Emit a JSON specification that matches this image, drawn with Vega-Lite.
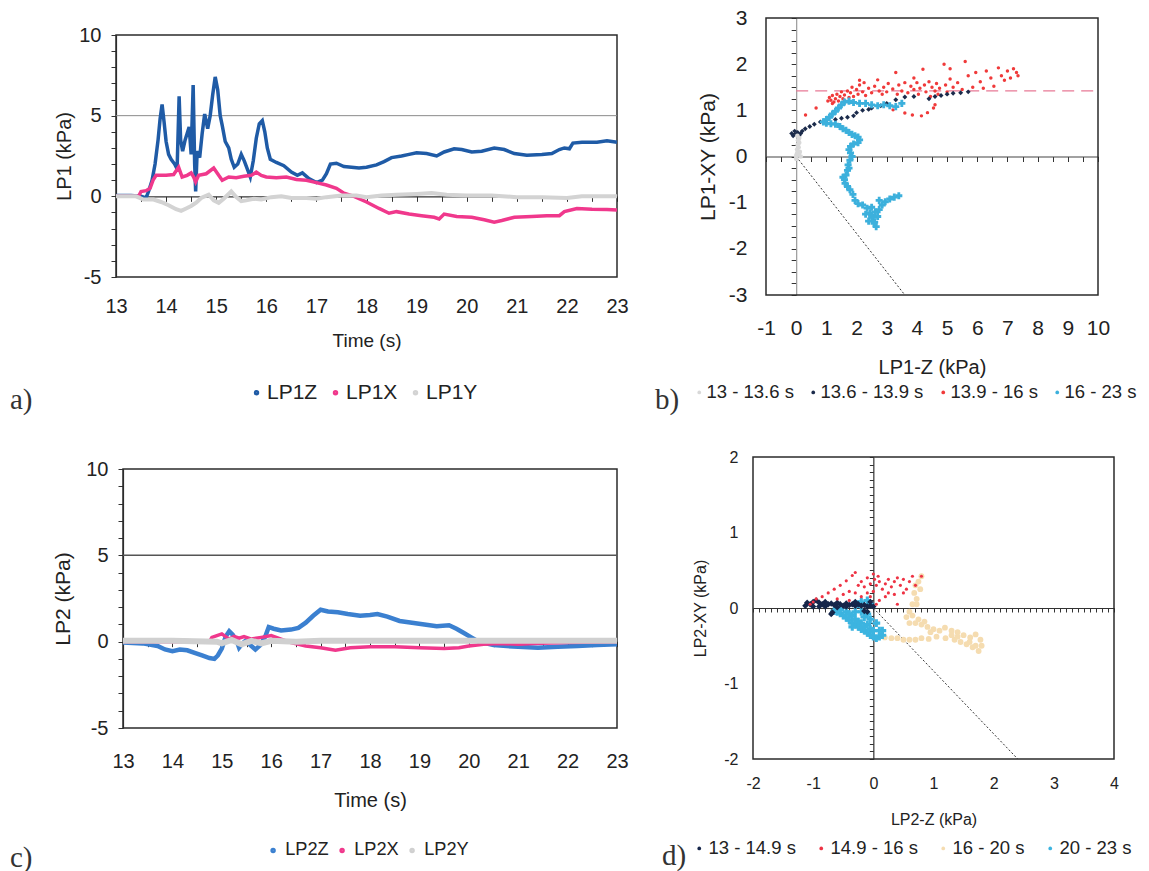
{
"$schema": "https://vega.github.io/schema/vega-lite/v6.json",
"background": "white",
"padding": 0,
"config": {
 "view": {"stroke": null},
 "font": "Liberation Sans",
 "axis": {"labelColor": "#222", "titleColor": "#222", "titleFontWeight": "normal", "domainColor": "#333", "tickColor": "#333", "labelFlush": false, "labelOverlap": false, "labelBound": false, "grid": false, "domainWidth": 1.2, "tickWidth": 1, "tickSize": 5, "labelFont": "Liberation Sans", "titleFont": "Liberation Sans"},
 "legend": {"labelColor": "#222", "titleColor": "#333", "titleFontWeight": "normal", "titleFont": "Liberation Serif", "labelFont": "Liberation Sans", "orient": "none", "direction": "horizontal", "titleOrient": "left", "symbolType": "circle", "titleBaseline": "line-top", "titleLineHeight": 17}
},
"datasets": {
 "frT": [
  {"t":13,"t2":23,"v":-5,"v2":10,"k":"frame"},
  {"t":13,"t2":23,"v":5,"v2":5,"k":"grid"}
 ],
 "tsA": [
  {"t":13.0,"v":0.05,"s":"LP1Z"},{"t":13.3,"v":0.05,"s":"LP1Z"},{"t":13.5,"v":0.0,"s":"LP1Z"},{"t":13.6,"v":-0.1,"s":"LP1Z"},{"t":13.65,"v":0.3,"s":"LP1Z"},{"t":13.72,"v":1.0,"s":"LP1Z"},{"t":13.78,"v":2.0,"s":"LP1Z"},{"t":13.84,"v":3.5,"s":"LP1Z"},{"t":13.88,"v":4.8,"s":"LP1Z"},{"t":13.92,"v":5.7,"s":"LP1Z"},{"t":13.96,"v":4.6,"s":"LP1Z"},{"t":14.0,"v":3.4,"s":"LP1Z"},{"t":14.05,"v":2.6,"s":"LP1Z"},{"t":14.1,"v":2.3,"s":"LP1Z"},{"t":14.17,"v":2.0,"s":"LP1Z"},{"t":14.22,"v":1.7,"s":"LP1Z"},{"t":14.26,"v":6.2,"s":"LP1Z"},{"t":14.29,"v":3.5,"s":"LP1Z"},{"t":14.33,"v":2.8,"s":"LP1Z"},{"t":14.38,"v":3.5,"s":"LP1Z"},{"t":14.42,"v":3.9,"s":"LP1Z"},{"t":14.46,"v":4.3,"s":"LP1Z"},{"t":14.5,"v":2.6,"s":"LP1Z"},{"t":14.54,"v":6.9,"s":"LP1Z"},{"t":14.57,"v":2.0,"s":"LP1Z"},{"t":14.59,"v":0.3,"s":"LP1Z"},{"t":14.62,"v":2.8,"s":"LP1Z"},{"t":14.67,"v":2.4,"s":"LP1Z"},{"t":14.72,"v":3.9,"s":"LP1Z"},{"t":14.77,"v":5.1,"s":"LP1Z"},{"t":14.83,"v":4.2,"s":"LP1Z"},{"t":14.88,"v":5.0,"s":"LP1Z"},{"t":14.93,"v":6.3,"s":"LP1Z"},{"t":14.98,"v":7.4,"s":"LP1Z"},{"t":15.03,"v":6.6,"s":"LP1Z"},{"t":15.08,"v":5.0,"s":"LP1Z"},{"t":15.12,"v":4.4,"s":"LP1Z"},{"t":15.18,"v":3.4,"s":"LP1Z"},{"t":15.25,"v":3.0,"s":"LP1Z"},{"t":15.3,"v":2.3,"s":"LP1Z"},{"t":15.36,"v":1.8,"s":"LP1Z"},{"t":15.43,"v":2.0,"s":"LP1Z"},{"t":15.5,"v":2.6,"s":"LP1Z"},{"t":15.56,"v":2.2,"s":"LP1Z"},{"t":15.62,"v":1.7,"s":"LP1Z"},{"t":15.68,"v":1.2,"s":"LP1Z"},{"t":15.74,"v":2.2,"s":"LP1Z"},{"t":15.8,"v":3.6,"s":"LP1Z"},{"t":15.86,"v":4.5,"s":"LP1Z"},{"t":15.92,"v":4.7,"s":"LP1Z"},{"t":15.97,"v":4.0,"s":"LP1Z"},{"t":16.02,"v":3.0,"s":"LP1Z"},{"t":16.08,"v":2.3,"s":"LP1Z"},{"t":16.2,"v":2.1,"s":"LP1Z"},{"t":16.35,"v":1.9,"s":"LP1Z"},{"t":16.5,"v":1.5,"s":"LP1Z"},{"t":16.62,"v":1.3,"s":"LP1Z"},{"t":16.72,"v":1.45,"s":"LP1Z"},{"t":16.85,"v":1.1,"s":"LP1Z"},{"t":17.0,"v":0.85,"s":"LP1Z"},{"t":17.12,"v":1.0,"s":"LP1Z"},{"t":17.2,"v":1.4,"s":"LP1Z"},{"t":17.28,"v":2.0,"s":"LP1Z"},{"t":17.4,"v":2.05,"s":"LP1Z"},{"t":17.55,"v":1.85,"s":"LP1Z"},{"t":17.7,"v":1.8,"s":"LP1Z"},{"t":17.85,"v":1.75,"s":"LP1Z"},{"t":18.0,"v":1.8,"s":"LP1Z"},{"t":18.2,"v":1.95,"s":"LP1Z"},{"t":18.35,"v":2.15,"s":"LP1Z"},{"t":18.5,"v":2.4,"s":"LP1Z"},{"t":18.7,"v":2.5,"s":"LP1Z"},{"t":18.85,"v":2.6,"s":"LP1Z"},{"t":19.0,"v":2.7,"s":"LP1Z"},{"t":19.2,"v":2.65,"s":"LP1Z"},{"t":19.4,"v":2.5,"s":"LP1Z"},{"t":19.55,"v":2.75,"s":"LP1Z"},{"t":19.75,"v":2.95,"s":"LP1Z"},{"t":19.9,"v":2.9,"s":"LP1Z"},{"t":20.1,"v":2.75,"s":"LP1Z"},{"t":20.3,"v":2.8,"s":"LP1Z"},{"t":20.55,"v":3.0,"s":"LP1Z"},{"t":20.75,"v":2.9,"s":"LP1Z"},{"t":20.95,"v":2.65,"s":"LP1Z"},{"t":21.2,"v":2.55,"s":"LP1Z"},{"t":21.5,"v":2.6,"s":"LP1Z"},{"t":21.7,"v":2.65,"s":"LP1Z"},{"t":21.85,"v":2.9,"s":"LP1Z"},{"t":21.95,"v":3.0,"s":"LP1Z"},{"t":22.05,"v":2.95,"s":"LP1Z"},{"t":22.12,"v":3.3,"s":"LP1Z"},{"t":22.3,"v":3.35,"s":"LP1Z"},{"t":22.6,"v":3.35,"s":"LP1Z"},{"t":22.8,"v":3.45,"s":"LP1Z"},{"t":23.0,"v":3.35,"s":"LP1Z"},
  {"t":13.0,"v":0.0,"s":"LP1X"},{"t":13.45,"v":0.0,"s":"LP1X"},{"t":13.5,"v":0.3,"s":"LP1X"},{"t":13.6,"v":0.35,"s":"LP1X"},{"t":13.68,"v":0.5,"s":"LP1X"},{"t":13.74,"v":1.0,"s":"LP1X"},{"t":13.8,"v":1.3,"s":"LP1X"},{"t":14.0,"v":1.3,"s":"LP1X"},{"t":14.15,"v":1.35,"s":"LP1X"},{"t":14.25,"v":1.8,"s":"LP1X"},{"t":14.32,"v":1.2,"s":"LP1X"},{"t":14.42,"v":1.3,"s":"LP1X"},{"t":14.5,"v":1.45,"s":"LP1X"},{"t":14.55,"v":1.2,"s":"LP1X"},{"t":14.59,"v":0.9,"s":"LP1X"},{"t":14.65,"v":1.3,"s":"LP1X"},{"t":14.8,"v":1.4,"s":"LP1X"},{"t":14.95,"v":1.75,"s":"LP1X"},{"t":15.05,"v":1.3,"s":"LP1X"},{"t":15.12,"v":1.0,"s":"LP1X"},{"t":15.25,"v":1.2,"s":"LP1X"},{"t":15.4,"v":1.15,"s":"LP1X"},{"t":15.55,"v":1.25,"s":"LP1X"},{"t":15.7,"v":1.3,"s":"LP1X"},{"t":15.8,"v":1.5,"s":"LP1X"},{"t":15.9,"v":1.3,"s":"LP1X"},{"t":16.0,"v":1.2,"s":"LP1X"},{"t":16.2,"v":1.15,"s":"LP1X"},{"t":16.4,"v":1.2,"s":"LP1X"},{"t":16.6,"v":1.05,"s":"LP1X"},{"t":16.8,"v":1.0,"s":"LP1X"},{"t":17.0,"v":0.85,"s":"LP1X"},{"t":17.2,"v":0.7,"s":"LP1X"},{"t":17.4,"v":0.5,"s":"LP1X"},{"t":17.55,"v":0.2,"s":"LP1X"},{"t":17.75,"v":0.0,"s":"LP1X"},{"t":18.0,"v":-0.35,"s":"LP1X"},{"t":18.25,"v":-0.75,"s":"LP1X"},{"t":18.45,"v":-1.05,"s":"LP1X"},{"t":18.6,"v":-0.95,"s":"LP1X"},{"t":18.85,"v":-1.1,"s":"LP1X"},{"t":19.1,"v":-1.2,"s":"LP1X"},{"t":19.35,"v":-1.3,"s":"LP1X"},{"t":19.45,"v":-1.4,"s":"LP1X"},{"t":19.55,"v":-1.1,"s":"LP1X"},{"t":19.8,"v":-1.25,"s":"LP1X"},{"t":20.1,"v":-1.3,"s":"LP1X"},{"t":20.35,"v":-1.45,"s":"LP1X"},{"t":20.55,"v":-1.6,"s":"LP1X"},{"t":20.7,"v":-1.5,"s":"LP1X"},{"t":20.95,"v":-1.3,"s":"LP1X"},{"t":21.3,"v":-1.25,"s":"LP1X"},{"t":21.6,"v":-1.2,"s":"LP1X"},{"t":21.85,"v":-1.2,"s":"LP1X"},{"t":21.95,"v":-0.95,"s":"LP1X"},{"t":22.2,"v":-0.75,"s":"LP1X"},{"t":22.5,"v":-0.8,"s":"LP1X"},{"t":22.8,"v":-0.82,"s":"LP1X"},{"t":23.0,"v":-0.85,"s":"LP1X"},
  {"t":13.0,"v":0.0,"s":"LP1Y"},{"t":13.4,"v":0.0,"s":"LP1Y"},{"t":13.55,"v":-0.2,"s":"LP1Y"},{"t":13.75,"v":-0.2,"s":"LP1Y"},{"t":13.9,"v":-0.35,"s":"LP1Y"},{"t":14.05,"v":-0.55,"s":"LP1Y"},{"t":14.2,"v":-0.8,"s":"LP1Y"},{"t":14.3,"v":-0.9,"s":"LP1Y"},{"t":14.4,"v":-0.75,"s":"LP1Y"},{"t":14.5,"v":-0.6,"s":"LP1Y"},{"t":14.6,"v":-0.4,"s":"LP1Y"},{"t":14.7,"v":-0.1,"s":"LP1Y"},{"t":14.85,"v":0.1,"s":"LP1Y"},{"t":14.95,"v":-0.25,"s":"LP1Y"},{"t":15.05,"v":-0.4,"s":"LP1Y"},{"t":15.15,"v":-0.15,"s":"LP1Y"},{"t":15.3,"v":0.3,"s":"LP1Y"},{"t":15.4,"v":-0.05,"s":"LP1Y"},{"t":15.5,"v":-0.3,"s":"LP1Y"},{"t":15.6,"v":-0.25,"s":"LP1Y"},{"t":15.75,"v":-0.15,"s":"LP1Y"},{"t":15.9,"v":-0.2,"s":"LP1Y"},{"t":16.1,"v":-0.05,"s":"LP1Y"},{"t":16.3,"v":0.0,"s":"LP1Y"},{"t":16.5,"v":-0.1,"s":"LP1Y"},{"t":16.8,"v":-0.1,"s":"LP1Y"},{"t":17.0,"v":-0.15,"s":"LP1Y"},{"t":17.2,"v":-0.05,"s":"LP1Y"},{"t":17.5,"v":0.05,"s":"LP1Y"},{"t":17.8,"v":0.05,"s":"LP1Y"},{"t":18.0,"v":-0.05,"s":"LP1Y"},{"t":18.3,"v":0.05,"s":"LP1Y"},{"t":18.6,"v":0.1,"s":"LP1Y"},{"t":19.0,"v":0.15,"s":"LP1Y"},{"t":19.3,"v":0.2,"s":"LP1Y"},{"t":19.6,"v":0.1,"s":"LP1Y"},{"t":20.0,"v":0.05,"s":"LP1Y"},{"t":20.5,"v":0.05,"s":"LP1Y"},{"t":21.0,"v":-0.05,"s":"LP1Y"},{"t":21.5,"v":-0.05,"s":"LP1Y"},{"t":22.0,"v":-0.1,"s":"LP1Y"},{"t":22.3,"v":0.0,"s":"LP1Y"},{"t":22.7,"v":0.0,"s":"LP1Y"},{"t":23.0,"v":0.0,"s":"LP1Y"}
 ],
 "tsC": [
  {"t":13.0,"v":-0.05,"s":"LP2Z"},{"t":13.4,"v":-0.1,"s":"LP2Z"},{"t":13.7,"v":-0.25,"s":"LP2Z"},{"t":13.85,"v":-0.45,"s":"LP2Z"},{"t":14.0,"v":-0.55,"s":"LP2Z"},{"t":14.15,"v":-0.45,"s":"LP2Z"},{"t":14.3,"v":-0.5,"s":"LP2Z"},{"t":14.45,"v":-0.65,"s":"LP2Z"},{"t":14.6,"v":-0.8,"s":"LP2Z"},{"t":14.75,"v":-0.95,"s":"LP2Z"},{"t":14.85,"v":-1.0,"s":"LP2Z"},{"t":14.92,"v":-0.8,"s":"LP2Z"},{"t":15.0,"v":-0.4,"s":"LP2Z"},{"t":15.08,"v":0.3,"s":"LP2Z"},{"t":15.15,"v":0.6,"s":"LP2Z"},{"t":15.22,"v":0.4,"s":"LP2Z"},{"t":15.3,"v":0.05,"s":"LP2Z"},{"t":15.35,"v":-0.35,"s":"LP2Z"},{"t":15.42,"v":-0.1,"s":"LP2Z"},{"t":15.5,"v":0.1,"s":"LP2Z"},{"t":15.58,"v":-0.2,"s":"LP2Z"},{"t":15.68,"v":-0.45,"s":"LP2Z"},{"t":15.78,"v":-0.2,"s":"LP2Z"},{"t":15.88,"v":0.3,"s":"LP2Z"},{"t":15.95,"v":0.85,"s":"LP2Z"},{"t":16.05,"v":0.75,"s":"LP2Z"},{"t":16.2,"v":0.65,"s":"LP2Z"},{"t":16.4,"v":0.7,"s":"LP2Z"},{"t":16.55,"v":0.8,"s":"LP2Z"},{"t":16.7,"v":1.1,"s":"LP2Z"},{"t":16.85,"v":1.5,"s":"LP2Z"},{"t":17.0,"v":1.85,"s":"LP2Z"},{"t":17.15,"v":1.75,"s":"LP2Z"},{"t":17.35,"v":1.7,"s":"LP2Z"},{"t":17.55,"v":1.6,"s":"LP2Z"},{"t":17.8,"v":1.5,"s":"LP2Z"},{"t":18.0,"v":1.55,"s":"LP2Z"},{"t":18.15,"v":1.6,"s":"LP2Z"},{"t":18.35,"v":1.45,"s":"LP2Z"},{"t":18.6,"v":1.2,"s":"LP2Z"},{"t":18.85,"v":1.1,"s":"LP2Z"},{"t":19.1,"v":1.0,"s":"LP2Z"},{"t":19.35,"v":0.9,"s":"LP2Z"},{"t":19.6,"v":0.95,"s":"LP2Z"},{"t":19.75,"v":0.75,"s":"LP2Z"},{"t":19.9,"v":0.5,"s":"LP2Z"},{"t":20.05,"v":0.25,"s":"LP2Z"},{"t":20.2,"v":0.0,"s":"LP2Z"},{"t":20.5,"v":-0.2,"s":"LP2Z"},{"t":21.0,"v":-0.3,"s":"LP2Z"},{"t":21.4,"v":-0.35,"s":"LP2Z"},{"t":21.8,"v":-0.3,"s":"LP2Z"},{"t":22.2,"v":-0.25,"s":"LP2Z"},{"t":22.6,"v":-0.2,"s":"LP2Z"},{"t":23.0,"v":-0.15,"s":"LP2Z"},
  {"t":13.0,"v":0.0,"s":"LP2X"},{"t":14.75,"v":0.0,"s":"LP2X"},{"t":14.8,"v":0.25,"s":"LP2X"},{"t":15.0,"v":0.45,"s":"LP2X"},{"t":15.15,"v":0.15,"s":"LP2X"},{"t":15.25,"v":0.3,"s":"LP2X"},{"t":15.35,"v":0.2,"s":"LP2X"},{"t":15.45,"v":0.3,"s":"LP2X"},{"t":15.6,"v":0.15,"s":"LP2X"},{"t":15.8,"v":0.25,"s":"LP2X"},{"t":16.0,"v":0.35,"s":"LP2X"},{"t":16.2,"v":0.15,"s":"LP2X"},{"t":16.4,"v":-0.05,"s":"LP2X"},{"t":16.7,"v":-0.25,"s":"LP2X"},{"t":17.0,"v":-0.35,"s":"LP2X"},{"t":17.3,"v":-0.5,"s":"LP2X"},{"t":17.6,"v":-0.35,"s":"LP2X"},{"t":18.0,"v":-0.3,"s":"LP2X"},{"t":18.5,"v":-0.3,"s":"LP2X"},{"t":19.0,"v":-0.35,"s":"LP2X"},{"t":19.5,"v":-0.4,"s":"LP2X"},{"t":19.8,"v":-0.35,"s":"LP2X"},{"t":20.0,"v":-0.25,"s":"LP2X"},{"t":20.3,"v":-0.15,"s":"LP2X"},{"t":20.6,"v":-0.1,"s":"LP2X"},{"t":21.0,"v":-0.15,"s":"LP2X"},{"t":21.3,"v":-0.1,"s":"LP2X"},{"t":22.0,"v":-0.05,"s":"LP2X"},{"t":23.0,"v":0.0,"s":"LP2X"},
  {"t":13.0,"v":0.05,"s":"LP2Y"},{"t":14.0,"v":0.05,"s":"LP2Y"},{"t":14.9,"v":0.0,"s":"LP2Y"},{"t":15.0,"v":-0.1,"s":"LP2Y"},{"t":15.2,"v":0.1,"s":"LP2Y"},{"t":15.4,"v":-0.15,"s":"LP2Y"},{"t":15.6,"v":0.05,"s":"LP2Y"},{"t":15.8,"v":-0.1,"s":"LP2Y"},{"t":16.0,"v":0.05,"s":"LP2Y"},{"t":16.5,"v":0.0,"s":"LP2Y"},{"t":17.0,"v":0.05,"s":"LP2Y"},{"t":18.0,"v":0.05,"s":"LP2Y"},{"t":19.0,"v":0.05,"s":"LP2Y"},{"t":20.0,"v":0.05,"s":"LP2Y"},{"t":21.0,"v":0.05,"s":"LP2Y"},{"t":22.0,"v":0.05,"s":"LP2Y"},{"t":23.0,"v":0.05,"s":"LP2Y"}
 ],
 "refB": [
  {"z":-1,"xy":-3,"z2":10,"xy2":3,"k":"frame"},
  {"z":0,"xy":1.42,"z2":10,"xy2":1.42,"k":"dash"},
  {"z":0,"xy":0,"z2":3.6,"xy2":-3,"k":"dot"}
 ],
 "refD": [
  {"z":-2,"xy":-2,"z2":4,"xy2":2,"k":"frame"},
  {"z":0,"xy":0,"z2":2.4,"xy2":-2,"k":"dot"}
 ],
 "scB": [
  {"z":0.31,"xy":0.9,"g":"13.9 - 16 s"},{"z":0.66,"xy":1.05,"g":"13.9 - 16 s"},{"z":1.05,"xy":1.2,"g":"13.9 - 16 s"},{"z":1.1,"xy":1.28,"g":"13.9 - 16 s"},{"z":1.15,"xy":1.22,"g":"13.9 - 16 s"},{"z":1.2,"xy":1.32,"g":"13.9 - 16 s"},{"z":1.25,"xy":1.18,"g":"13.9 - 16 s"},{"z":1.3,"xy":1.25,"g":"13.9 - 16 s"},{"z":1.35,"xy":1.35,"g":"13.9 - 16 s"},{"z":1.4,"xy":1.2,"g":"13.9 - 16 s"},{"z":1.45,"xy":1.3,"g":"13.9 - 16 s"},{"z":1.5,"xy":1.4,"g":"13.9 - 16 s"},{"z":1.55,"xy":1.25,"g":"13.9 - 16 s"},{"z":1.6,"xy":1.33,"g":"13.9 - 16 s"},{"z":1.7,"xy":1.42,"g":"13.9 - 16 s"},{"z":1.75,"xy":1.28,"g":"13.9 - 16 s"},{"z":1.8,"xy":1.38,"g":"13.9 - 16 s"},{"z":1.85,"xy":1.5,"g":"13.9 - 16 s"},{"z":1.9,"xy":1.3,"g":"13.9 - 16 s"},{"z":2.0,"xy":1.45,"g":"13.9 - 16 s"},{"z":2.05,"xy":1.35,"g":"13.9 - 16 s"},{"z":2.1,"xy":1.55,"g":"13.9 - 16 s"},{"z":2.2,"xy":1.4,"g":"13.9 - 16 s"},{"z":2.25,"xy":1.6,"g":"13.9 - 16 s"},{"z":2.3,"xy":1.32,"g":"13.9 - 16 s"},{"z":2.4,"xy":1.48,"g":"13.9 - 16 s"},{"z":2.5,"xy":1.38,"g":"13.9 - 16 s"},{"z":2.6,"xy":1.52,"g":"13.9 - 16 s"},{"z":2.7,"xy":1.66,"g":"13.9 - 16 s"},{"z":2.75,"xy":1.42,"g":"13.9 - 16 s"},{"z":2.85,"xy":1.35,"g":"13.9 - 16 s"},{"z":2.9,"xy":1.5,"g":"13.9 - 16 s"},{"z":3.0,"xy":1.4,"g":"13.9 - 16 s"},{"z":3.05,"xy":1.58,"g":"13.9 - 16 s"},{"z":3.1,"xy":1.1,"g":"13.9 - 16 s"},{"z":3.2,"xy":1.46,"g":"13.9 - 16 s"},{"z":3.21,"xy":1.01,"g":"13.9 - 16 s"},{"z":3.3,"xy":1.82,"g":"13.9 - 16 s"},{"z":3.35,"xy":1.35,"g":"13.9 - 16 s"},{"z":3.4,"xy":1.55,"g":"13.9 - 16 s"},{"z":3.5,"xy":1.42,"g":"13.9 - 16 s"},{"z":3.6,"xy":0.94,"g":"13.9 - 16 s"},{"z":3.6,"xy":1.6,"g":"13.9 - 16 s"},{"z":3.7,"xy":1.38,"g":"13.9 - 16 s"},{"z":3.8,"xy":1.52,"g":"13.9 - 16 s"},{"z":3.85,"xy":0.9,"g":"13.9 - 16 s"},{"z":3.9,"xy":1.45,"g":"13.9 - 16 s"},{"z":4.0,"xy":1.6,"g":"13.9 - 16 s"},{"z":4.05,"xy":1.35,"g":"13.9 - 16 s"},{"z":4.1,"xy":1.48,"g":"13.9 - 16 s"},{"z":4.15,"xy":0.88,"g":"13.9 - 16 s"},{"z":4.2,"xy":1.89,"g":"13.9 - 16 s"},{"z":4.25,"xy":1.55,"g":"13.9 - 16 s"},{"z":4.3,"xy":1.4,"g":"13.9 - 16 s"},{"z":4.35,"xy":0.95,"g":"13.9 - 16 s"},{"z":4.4,"xy":1.62,"g":"13.9 - 16 s"},{"z":4.45,"xy":1.3,"g":"13.9 - 16 s"},{"z":4.5,"xy":1.5,"g":"13.9 - 16 s"},{"z":4.55,"xy":1.05,"g":"13.9 - 16 s"},{"z":4.6,"xy":1.42,"g":"13.9 - 16 s"},{"z":4.6,"xy":1.12,"g":"13.9 - 16 s"},{"z":4.65,"xy":1.58,"g":"13.9 - 16 s"},{"z":4.7,"xy":1.35,"g":"13.9 - 16 s"},{"z":4.75,"xy":1.48,"g":"13.9 - 16 s"},{"z":4.9,"xy":2.0,"g":"13.9 - 16 s"},{"z":4.95,"xy":1.55,"g":"13.9 - 16 s"},{"z":5.0,"xy":1.4,"g":"13.9 - 16 s"},{"z":5.1,"xy":1.68,"g":"13.9 - 16 s"},{"z":5.2,"xy":1.5,"g":"13.9 - 16 s"},{"z":5.35,"xy":1.6,"g":"13.9 - 16 s"},{"z":5.5,"xy":1.45,"g":"13.9 - 16 s"},{"z":5.6,"xy":2.06,"g":"13.9 - 16 s"},{"z":5.7,"xy":1.75,"g":"13.9 - 16 s"},{"z":5.85,"xy":1.5,"g":"13.9 - 16 s"},{"z":5.95,"xy":1.82,"g":"13.9 - 16 s"},{"z":6.1,"xy":1.62,"g":"13.9 - 16 s"},{"z":6.2,"xy":1.48,"g":"13.9 - 16 s"},{"z":6.3,"xy":1.85,"g":"13.9 - 16 s"},{"z":6.45,"xy":1.7,"g":"13.9 - 16 s"},{"z":6.55,"xy":1.52,"g":"13.9 - 16 s"},{"z":6.7,"xy":1.92,"g":"13.9 - 16 s"},{"z":6.8,"xy":1.75,"g":"13.9 - 16 s"},{"z":6.9,"xy":1.65,"g":"13.9 - 16 s"},{"z":7.0,"xy":1.85,"g":"13.9 - 16 s"},{"z":7.1,"xy":1.7,"g":"13.9 - 16 s"},{"z":7.2,"xy":1.9,"g":"13.9 - 16 s"},{"z":7.3,"xy":1.82,"g":"13.9 - 16 s"},{"z":7.35,"xy":1.75,"g":"13.9 - 16 s"},{"z":5.1,"xy":1.9,"g":"13.9 - 16 s"},{"z":3.9,"xy":1.7,"g":"13.9 - 16 s"},{"z":2.1,"xy":1.65,"g":"13.9 - 16 s"},{"z":1.2,"xy":1.15,"g":"13.9 - 16 s"},{"z":1.6,"xy":1.2,"g":"13.9 - 16 s"},
  {"z":-0.15,"xy":0.5,"g":"13.6 - 13.9 s"},{"z":-0.1,"xy":0.45,"g":"13.6 - 13.9 s"},{"z":-0.05,"xy":0.55,"g":"13.6 - 13.9 s"},{"z":0.0,"xy":0.48,"g":"13.6 - 13.9 s"},{"z":0.05,"xy":0.52,"g":"13.6 - 13.9 s"},{"z":0.1,"xy":0.45,"g":"13.6 - 13.9 s"},{"z":0.15,"xy":0.5,"g":"13.6 - 13.9 s"},{"z":0.2,"xy":0.55,"g":"13.6 - 13.9 s"},{"z":0.3,"xy":0.6,"g":"13.6 - 13.9 s"},{"z":0.45,"xy":0.65,"g":"13.6 - 13.9 s"},{"z":0.6,"xy":0.7,"g":"13.6 - 13.9 s"},{"z":0.8,"xy":0.75,"g":"13.6 - 13.9 s"},{"z":1.0,"xy":0.78,"g":"13.6 - 13.9 s"},{"z":1.3,"xy":0.8,"g":"13.6 - 13.9 s"},{"z":1.5,"xy":0.83,"g":"13.6 - 13.9 s"},{"z":1.7,"xy":0.85,"g":"13.6 - 13.9 s"},{"z":1.9,"xy":0.88,"g":"13.6 - 13.9 s"},{"z":2.0,"xy":0.95,"g":"13.6 - 13.9 s"},{"z":2.2,"xy":1.0,"g":"13.6 - 13.9 s"},{"z":2.4,"xy":1.02,"g":"13.6 - 13.9 s"},{"z":2.5,"xy":1.05,"g":"13.6 - 13.9 s"},{"z":2.8,"xy":1.1,"g":"13.6 - 13.9 s"},{"z":3.0,"xy":1.15,"g":"13.6 - 13.9 s"},{"z":3.3,"xy":1.23,"g":"13.6 - 13.9 s"},{"z":3.6,"xy":1.29,"g":"13.6 - 13.9 s"},{"z":3.9,"xy":1.3,"g":"13.6 - 13.9 s"},{"z":4.4,"xy":1.25,"g":"13.6 - 13.9 s"},{"z":4.6,"xy":1.3,"g":"13.6 - 13.9 s"},{"z":4.8,"xy":1.32,"g":"13.6 - 13.9 s"},{"z":5.0,"xy":1.35,"g":"13.6 - 13.9 s"},{"z":5.2,"xy":1.37,"g":"13.6 - 13.9 s"},{"z":5.45,"xy":1.38,"g":"13.6 - 13.9 s"},{"z":5.7,"xy":1.4,"g":"13.6 - 13.9 s"},
  {"z":3.5,"xy":1.15,"g":"16 - 23 s"},{"z":3.3,"xy":1.08,"g":"16 - 23 s"},{"z":3.1,"xy":1.1,"g":"16 - 23 s"},{"z":2.9,"xy":1.12,"g":"16 - 23 s"},{"z":2.7,"xy":1.1,"g":"16 - 23 s"},{"z":2.5,"xy":1.12,"g":"16 - 23 s"},{"z":2.3,"xy":1.15,"g":"16 - 23 s"},{"z":2.1,"xy":1.15,"g":"16 - 23 s"},{"z":1.9,"xy":1.17,"g":"16 - 23 s"},{"z":1.75,"xy":1.2,"g":"16 - 23 s"},{"z":1.6,"xy":1.18,"g":"16 - 23 s"},{"z":1.5,"xy":1.12,"g":"16 - 23 s"},{"z":1.4,"xy":1.05,"g":"16 - 23 s"},{"z":1.3,"xy":0.98,"g":"16 - 23 s"},{"z":1.2,"xy":0.92,"g":"16 - 23 s"},{"z":1.1,"xy":0.85,"g":"16 - 23 s"},{"z":1.0,"xy":0.8,"g":"16 - 23 s"},{"z":0.9,"xy":0.75,"g":"16 - 23 s"},{"z":1.0,"xy":0.72,"g":"16 - 23 s"},{"z":1.15,"xy":0.71,"g":"16 - 23 s"},{"z":1.3,"xy":0.7,"g":"16 - 23 s"},{"z":1.45,"xy":0.65,"g":"16 - 23 s"},{"z":1.55,"xy":0.6,"g":"16 - 23 s"},{"z":1.65,"xy":0.57,"g":"16 - 23 s"},{"z":1.75,"xy":0.52,"g":"16 - 23 s"},{"z":1.85,"xy":0.48,"g":"16 - 23 s"},{"z":1.95,"xy":0.45,"g":"16 - 23 s"},{"z":2.05,"xy":0.42,"g":"16 - 23 s"},{"z":2.1,"xy":0.36,"g":"16 - 23 s"},{"z":2.05,"xy":0.3,"g":"16 - 23 s"},{"z":1.9,"xy":0.27,"g":"16 - 23 s"},{"z":1.8,"xy":0.22,"g":"16 - 23 s"},{"z":1.75,"xy":0.15,"g":"16 - 23 s"},{"z":1.8,"xy":0.08,"g":"16 - 23 s"},{"z":1.85,"xy":0.0,"g":"16 - 23 s"},{"z":1.78,"xy":-0.08,"g":"16 - 23 s"},{"z":1.72,"xy":-0.18,"g":"16 - 23 s"},{"z":1.75,"xy":-0.25,"g":"16 - 23 s"},{"z":1.7,"xy":-0.3,"g":"16 - 23 s"},{"z":1.65,"xy":-0.4,"g":"16 - 23 s"},{"z":1.55,"xy":-0.45,"g":"16 - 23 s"},{"z":1.6,"xy":-0.5,"g":"16 - 23 s"},{"z":1.62,"xy":-0.58,"g":"16 - 23 s"},{"z":1.7,"xy":-0.65,"g":"16 - 23 s"},{"z":1.78,"xy":-0.72,"g":"16 - 23 s"},{"z":1.88,"xy":-0.82,"g":"16 - 23 s"},{"z":1.95,"xy":-0.95,"g":"16 - 23 s"},{"z":2.05,"xy":-1.02,"g":"16 - 23 s"},{"z":2.2,"xy":-1.05,"g":"16 - 23 s"},{"z":2.35,"xy":-1.12,"g":"16 - 23 s"},{"z":2.3,"xy":-1.25,"g":"16 - 23 s"},{"z":2.45,"xy":-1.22,"g":"16 - 23 s"},{"z":2.4,"xy":-1.4,"g":"16 - 23 s"},{"z":2.55,"xy":-1.32,"g":"16 - 23 s"},{"z":2.6,"xy":-1.42,"g":"16 - 23 s"},{"z":2.65,"xy":-1.52,"g":"16 - 23 s"},{"z":2.58,"xy":-1.45,"g":"16 - 23 s"},{"z":2.5,"xy":-1.3,"g":"16 - 23 s"},{"z":2.5,"xy":-1.1,"g":"16 - 23 s"},{"z":2.62,"xy":-1.2,"g":"16 - 23 s"},{"z":2.7,"xy":-1.3,"g":"16 - 23 s"},{"z":2.75,"xy":-1.15,"g":"16 - 23 s"},{"z":2.75,"xy":-0.95,"g":"16 - 23 s"},{"z":2.85,"xy":-1.05,"g":"16 - 23 s"},{"z":2.95,"xy":-0.98,"g":"16 - 23 s"},{"z":3.1,"xy":-0.92,"g":"16 - 23 s"},{"z":3.25,"xy":-0.88,"g":"16 - 23 s"},{"z":3.4,"xy":-0.85,"g":"16 - 23 s"},
  {"z":0.0,"xy":0.0,"g":"13 - 13.6 s"},{"z":0.02,"xy":0.05,"g":"13 - 13.6 s"},{"z":0.05,"xy":0.1,"g":"13 - 13.6 s"},{"z":0.03,"xy":0.15,"g":"13 - 13.6 s"},{"z":0.08,"xy":0.2,"g":"13 - 13.6 s"},{"z":0.05,"xy":0.25,"g":"13 - 13.6 s"},{"z":0.1,"xy":0.3,"g":"13 - 13.6 s"},{"z":0.06,"xy":0.35,"g":"13 - 13.6 s"},{"z":0.1,"xy":0.4,"g":"13 - 13.6 s"},{"z":0.04,"xy":0.45,"g":"13 - 13.6 s"},{"z":0.12,"xy":0.1,"g":"13 - 13.6 s"},{"z":0.15,"xy":0.0,"g":"13 - 13.6 s"},{"z":0.0,"xy":-0.05,"g":"13 - 13.6 s"},{"z":0.08,"xy":0.05,"g":"13 - 13.6 s"}
 ],
 "scD": [
  {"z":0.8,"xy":0.42,"g":"16 - 20 s"},{"z":0.75,"xy":0.35,"g":"16 - 20 s"},{"z":0.7,"xy":0.3,"g":"16 - 20 s"},{"z":0.68,"xy":0.2,"g":"16 - 20 s"},{"z":0.72,"xy":0.12,"g":"16 - 20 s"},{"z":0.65,"xy":0.05,"g":"16 - 20 s"},{"z":0.6,"xy":-0.05,"g":"16 - 20 s"},{"z":0.55,"xy":-0.12,"g":"16 - 20 s"},{"z":0.65,"xy":-0.1,"g":"16 - 20 s"},{"z":0.75,"xy":-0.15,"g":"16 - 20 s"},{"z":0.7,"xy":-0.2,"g":"16 - 20 s"},{"z":0.85,"xy":-0.18,"g":"16 - 20 s"},{"z":0.6,"xy":-0.2,"g":"16 - 20 s"},{"z":0.8,"xy":-0.22,"g":"16 - 20 s"},{"z":0.9,"xy":-0.25,"g":"16 - 20 s"},{"z":1.0,"xy":-0.28,"g":"16 - 20 s"},{"z":1.1,"xy":-0.3,"g":"16 - 20 s"},{"z":1.19,"xy":-0.26,"g":"16 - 20 s"},{"z":1.3,"xy":-0.3,"g":"16 - 20 s"},{"z":1.4,"xy":-0.32,"g":"16 - 20 s"},{"z":1.5,"xy":-0.36,"g":"16 - 20 s"},{"z":1.61,"xy":-0.39,"g":"16 - 20 s"},{"z":1.7,"xy":-0.35,"g":"16 - 20 s"},{"z":1.78,"xy":-0.42,"g":"16 - 20 s"},{"z":1.8,"xy":-0.5,"g":"16 - 20 s"},{"z":1.75,"xy":-0.57,"g":"16 - 20 s"},{"z":1.65,"xy":-0.52,"g":"16 - 20 s"},{"z":1.55,"xy":-0.48,"g":"16 - 20 s"},{"z":1.45,"xy":-0.45,"g":"16 - 20 s"},{"z":1.35,"xy":-0.42,"g":"16 - 20 s"},{"z":1.2,"xy":-0.4,"g":"16 - 20 s"},{"z":1.05,"xy":-0.38,"g":"16 - 20 s"},{"z":0.92,"xy":-0.41,"g":"16 - 20 s"},{"z":0.8,"xy":-0.4,"g":"16 - 20 s"},{"z":0.7,"xy":-0.42,"g":"16 - 20 s"},{"z":0.6,"xy":-0.42,"g":"16 - 20 s"},{"z":0.5,"xy":-0.42,"g":"16 - 20 s"},{"z":0.4,"xy":-0.4,"g":"16 - 20 s"},{"z":0.3,"xy":-0.4,"g":"16 - 20 s"},{"z":0.19,"xy":-0.39,"g":"16 - 20 s"},{"z":1.3,"xy":-0.36,"g":"16 - 20 s"},{"z":1.6,"xy":-0.45,"g":"16 - 20 s"},{"z":1.7,"xy":-0.5,"g":"16 - 20 s"},{"z":1.4,"xy":-0.38,"g":"16 - 20 s"},{"z":0.95,"xy":-0.32,"g":"16 - 20 s"},{"z":0.72,"xy":0.05,"g":"16 - 20 s"},{"z":0.78,"xy":0.25,"g":"16 - 20 s"},
  {"z":0.15,"xy":-0.36,"g":"20 - 23 s"},{"z":0.1,"xy":-0.38,"g":"20 - 23 s"},{"z":0.05,"xy":-0.4,"g":"20 - 23 s"},{"z":0.0,"xy":-0.38,"g":"20 - 23 s"},{"z":-0.05,"xy":-0.36,"g":"20 - 23 s"},{"z":-0.1,"xy":-0.33,"g":"20 - 23 s"},{"z":-0.15,"xy":-0.3,"g":"20 - 23 s"},{"z":-0.2,"xy":-0.28,"g":"20 - 23 s"},{"z":-0.25,"xy":-0.25,"g":"20 - 23 s"},{"z":-0.3,"xy":-0.22,"g":"20 - 23 s"},{"z":-0.35,"xy":-0.2,"g":"20 - 23 s"},{"z":-0.4,"xy":-0.16,"g":"20 - 23 s"},{"z":-0.45,"xy":-0.13,"g":"20 - 23 s"},{"z":-0.5,"xy":-0.1,"g":"20 - 23 s"},{"z":-0.55,"xy":-0.07,"g":"20 - 23 s"},{"z":-0.6,"xy":-0.05,"g":"20 - 23 s"},{"z":-0.65,"xy":-0.04,"g":"20 - 23 s"},{"z":-0.55,"xy":-0.02,"g":"20 - 23 s"},{"z":-0.45,"xy":-0.05,"g":"20 - 23 s"},{"z":-0.35,"xy":-0.1,"g":"20 - 23 s"},{"z":-0.3,"xy":-0.15,"g":"20 - 23 s"},{"z":-0.25,"xy":-0.18,"g":"20 - 23 s"},{"z":-0.2,"xy":-0.2,"g":"20 - 23 s"},{"z":-0.1,"xy":-0.22,"g":"20 - 23 s"},{"z":-0.05,"xy":-0.28,"g":"20 - 23 s"},{"z":0.0,"xy":-0.3,"g":"20 - 23 s"},{"z":0.1,"xy":-0.3,"g":"20 - 23 s"},{"z":-0.15,"xy":-0.12,"g":"20 - 23 s"},{"z":-0.2,"xy":-0.05,"g":"20 - 23 s"},{"z":-0.1,"xy":-0.08,"g":"20 - 23 s"},{"z":-0.05,"xy":-0.15,"g":"20 - 23 s"},{"z":-0.3,"xy":-0.05,"g":"20 - 23 s"},{"z":-0.25,"xy":0.05,"g":"20 - 23 s"},{"z":-0.2,"xy":0.08,"g":"20 - 23 s"},{"z":-0.1,"xy":0.1,"g":"20 - 23 s"},{"z":-0.05,"xy":0.05,"g":"20 - 23 s"},{"z":-0.4,"xy":-0.08,"g":"20 - 23 s"},{"z":-0.35,"xy":-0.25,"g":"20 - 23 s"},{"z":-0.15,"xy":-0.25,"g":"20 - 23 s"},{"z":0.05,"xy":-0.2,"g":"20 - 23 s"},{"z":0.15,"xy":-0.3,"g":"20 - 23 s"},
  {"z":0.0,"xy":0.02,"g":"13 - 14.9 s"},{"z":-0.05,"xy":0.03,"g":"13 - 14.9 s"},{"z":-0.1,"xy":0.02,"g":"13 - 14.9 s"},{"z":-0.15,"xy":0.04,"g":"13 - 14.9 s"},{"z":-0.2,"xy":0.03,"g":"13 - 14.9 s"},{"z":-0.25,"xy":0.05,"g":"13 - 14.9 s"},{"z":-0.3,"xy":0.03,"g":"13 - 14.9 s"},{"z":-0.35,"xy":0.05,"g":"13 - 14.9 s"},{"z":-0.4,"xy":0.04,"g":"13 - 14.9 s"},{"z":-0.45,"xy":0.06,"g":"13 - 14.9 s"},{"z":-0.5,"xy":0.03,"g":"13 - 14.9 s"},{"z":-0.55,"xy":0.05,"g":"13 - 14.9 s"},{"z":-0.6,"xy":0.07,"g":"13 - 14.9 s"},{"z":-0.65,"xy":0.04,"g":"13 - 14.9 s"},{"z":-0.7,"xy":0.06,"g":"13 - 14.9 s"},{"z":-0.75,"xy":0.05,"g":"13 - 14.9 s"},{"z":-0.8,"xy":0.08,"g":"13 - 14.9 s"},{"z":-0.85,"xy":0.05,"g":"13 - 14.9 s"},{"z":-0.9,"xy":0.07,"g":"13 - 14.9 s"},{"z":-0.95,"xy":0.1,"g":"13 - 14.9 s"},{"z":-1.0,"xy":0.08,"g":"13 - 14.9 s"},{"z":-1.05,"xy":0.05,"g":"13 - 14.9 s"},{"z":-1.1,"xy":0.07,"g":"13 - 14.9 s"},{"z":-1.13,"xy":0.03,"g":"13 - 14.9 s"},{"z":-1.0,"xy":0.02,"g":"13 - 14.9 s"},{"z":-0.8,"xy":0.02,"g":"13 - 14.9 s"},{"z":-0.6,"xy":0.01,"g":"13 - 14.9 s"},{"z":-0.7,"xy":-0.08,"g":"13 - 14.9 s"},{"z":-0.68,"xy":-0.06,"g":"13 - 14.9 s"},{"z":-0.15,"xy":-0.04,"g":"13 - 14.9 s"},{"z":-0.1,"xy":-0.05,"g":"13 - 14.9 s"},{"z":-0.05,"xy":0.08,"g":"13 - 14.9 s"},{"z":-0.3,"xy":0.08,"g":"13 - 14.9 s"},{"z":-0.9,"xy":0.02,"g":"13 - 14.9 s"},{"z":-0.45,"xy":0.02,"g":"13 - 14.9 s"},
  {"z":-1.0,"xy":0.08,"g":"14.9 - 16 s"},{"z":-0.95,"xy":0.12,"g":"14.9 - 16 s"},{"z":-0.85,"xy":0.15,"g":"14.9 - 16 s"},{"z":-0.75,"xy":0.2,"g":"14.9 - 16 s"},{"z":-0.65,"xy":0.25,"g":"14.9 - 16 s"},{"z":-0.55,"xy":0.3,"g":"14.9 - 16 s"},{"z":-0.45,"xy":0.36,"g":"14.9 - 16 s"},{"z":-0.35,"xy":0.43,"g":"14.9 - 16 s"},{"z":-0.3,"xy":0.47,"g":"14.9 - 16 s"},{"z":-0.6,"xy":0.12,"g":"14.9 - 16 s"},{"z":-0.5,"xy":0.18,"g":"14.9 - 16 s"},{"z":-0.4,"xy":0.22,"g":"14.9 - 16 s"},{"z":-0.3,"xy":0.2,"g":"14.9 - 16 s"},{"z":-0.25,"xy":0.3,"g":"14.9 - 16 s"},{"z":-0.2,"xy":0.35,"g":"14.9 - 16 s"},{"z":-0.15,"xy":0.28,"g":"14.9 - 16 s"},{"z":-0.1,"xy":0.4,"g":"14.9 - 16 s"},{"z":-0.05,"xy":0.32,"g":"14.9 - 16 s"},{"z":0.0,"xy":0.45,"g":"14.9 - 16 s"},{"z":0.02,"xy":0.38,"g":"14.9 - 16 s"},{"z":0.05,"xy":0.3,"g":"14.9 - 16 s"},{"z":0.08,"xy":0.42,"g":"14.9 - 16 s"},{"z":0.1,"xy":0.35,"g":"14.9 - 16 s"},{"z":0.15,"xy":0.25,"g":"14.9 - 16 s"},{"z":0.2,"xy":0.32,"g":"14.9 - 16 s"},{"z":0.25,"xy":0.38,"g":"14.9 - 16 s"},{"z":0.3,"xy":0.28,"g":"14.9 - 16 s"},{"z":0.35,"xy":0.35,"g":"14.9 - 16 s"},{"z":0.4,"xy":0.4,"g":"14.9 - 16 s"},{"z":0.45,"xy":0.3,"g":"14.9 - 16 s"},{"z":0.5,"xy":0.38,"g":"14.9 - 16 s"},{"z":0.55,"xy":0.25,"g":"14.9 - 16 s"},{"z":0.6,"xy":0.35,"g":"14.9 - 16 s"},{"z":0.65,"xy":0.42,"g":"14.9 - 16 s"},{"z":0.7,"xy":0.3,"g":"14.9 - 16 s"},{"z":0.8,"xy":0.42,"g":"14.9 - 16 s"},{"z":0.2,"xy":0.15,"g":"14.9 - 16 s"},{"z":0.1,"xy":0.1,"g":"14.9 - 16 s"},{"z":-0.2,"xy":0.15,"g":"14.9 - 16 s"},{"z":-0.1,"xy":0.2,"g":"14.9 - 16 s"},{"z":0.35,"xy":0.18,"g":"14.9 - 16 s"},{"z":0.05,"xy":0.05,"g":"14.9 - 16 s"},{"z":-0.4,"xy":0.1,"g":"14.9 - 16 s"},{"z":0.4,"xy":0.05,"g":"14.9 - 16 s"},{"z":-0.05,"xy":0.15,"g":"14.9 - 16 s"},{"z":-1.05,"xy":0.05,"g":"14.9 - 16 s"},{"z":0.25,"xy":0.2,"g":"14.9 - 16 s"},{"z":0.5,"xy":0.2,"g":"14.9 - 16 s"},{"z":0.0,"xy":0.22,"g":"14.9 - 16 s"}
 ]
},
"columns": 4,
"align": "each",
"bounds": "flush",
"spacing": 0,
"resolve": {"scale": {"color": "independent"}, "legend": {"color": "independent"}},
"concat": [
 {"width": 116, "height": 18, "data": {"values": []}, "mark": "point"},
 {"width": 1, "height": 1, "data": {"values": []}, "mark": "point"},
 {"width": 1, "height": 1, "data": {"values": []}, "mark": "point"},
 {"width": 1, "height": 1, "data": {"values": []}, "mark": "point"},

 {"width": 1, "height": 1, "data": {"values": []}, "mark": "point"},
 {
  "width": 501, "height": 277,
  "encoding": {
   "x": {"field": "t", "type": "quantitative", "scale": {"domain": [13, 23], "nice": false, "zero": false},
     "axis": {"title": "Time (s)", "values": [13,13.5,14,14.5,15,15.5,16,16.5,17,17.5,18,18.5,19,19.5,20,20.5,21,21.5,22,22.5,23], "labelExpr": "datum.value % 1 === 0 ? '' + datum.value : ''", "labelOverlap": false, "offset": -98.67, "labelPadding": 95.5, "labelFontSize": 20, "titleFontSize": 19, "titlePadding": 15}},
   "y": {"field": "v", "type": "quantitative", "scale": {"domain": [-5, 10], "nice": false, "zero": false, "range": [259, 17]},
     "axis": {"title": "LP1 (kPa)", "values": [-5,-4,-3,-2,-1,0,1,2,3,4,5,6,7,8,9,10], "labelExpr": "datum.value % 5 === 0 ? '' + datum.value : ''", "labelOverlap": false, "labelPadding": 10, "labelFontSize": 20, "titleFontSize": 20, "titlePadding": 4}}
  },
  "layer": [
   {"data": {"name": "frT"}, "transform": [{"filter": "datum.k === 'frame'"}], "mark": {"type": "rect", "fill": "transparent", "stroke": "#2b2b2b", "strokeWidth": 1.5}, "encoding": {"x2": {"field": "t2"}, "y2": {"field": "v2"}}},
   {"data": {"name": "frT"}, "transform": [{"filter": "datum.k === 'grid'"}], "mark": {"type": "rule", "color": "#8a8a8a", "strokeWidth": 1}, "encoding": {"x2": {"field": "t2"}}},
   {
    "data": {"name": "tsA"},
    "encoding": {
     "color": {"field": "s", "type": "nominal", "scale": {"domain": ["LP1Z", "LP1X", "LP1Y"], "range": ["#1f5ba6", "#f0388c", "#d3d3d3"]},
       "legend": {"title": "a)", "legendX": -106, "legendY": 364, "titlePadding": 213, "titleFontSize": 29, "labelFontSize": 21, "symbolSize": 6, "symbolStrokeWidth": 3, "columnPadding": 7, "labelOffset": 0}}
    },
    "layer": [
     {"transform": [{"filter": "datum.s === 'LP1Z'"}], "mark": {"type": "line", "strokeWidth": 3.5}},
     {"transform": [{"filter": "datum.s === 'LP1X'"}], "mark": {"type": "line", "strokeWidth": 3.5}},
     {"transform": [{"filter": "datum.s === 'LP1Y'"}], "mark": {"type": "line", "strokeWidth": 4}}
    ]
   }
  ]
 },
 {"width": 136, "height": 1, "data": {"values": []}, "mark": "point"},
 {
  "width": 361, "height": 277,
  "encoding": {
   "x": {"field": "z", "type": "quantitative", "scale": {"domain": [-1, 10], "nice": false, "zero": false, "range": [13, 345]},
     "axis": {"title": "LP1-Z (kPa)", "values": [-1,-0.5,0,0.5,1,1.5,2,2.5,3,3.5,4,4.5,5,5.5,6,6.5,7,7.5,8,8.5,9,9.5,10], "labelExpr": "datum.value % 1 === 0 ? '' + datum.value : ''", "labelOverlap": false, "offset": -138.5, "labelPadding": 156, "labelFontSize": 21, "titleFontSize": 20, "titlePadding": 19, "domainColor": "#444"}},
   "y": {"field": "xy", "type": "quantitative", "scale": {"domain": [-3, 3], "nice": false, "zero": false},
     "axis": {"title": "LP1-XY (kPa)", "values": [-3,-2.75,-2.5,-2.25,-2,-1.75,-1.5,-1.25,-1,-0.75,-0.5,-0.25,0,0.25,0.5,0.75,1,1.25,1.5,1.75,2,2.25,2.5,2.75,3], "labelExpr": "datum.value % 1 === 0 ? '' + datum.value : ''", "labelOverlap": false, "offset": -43.18, "labelPadding": 44.2, "labelFontSize": 21, "titleFontSize": 21, "titlePadding": 10, "domainColor": "#9a9a9a"}}
  },
  "layer": [
   {"data": {"name": "refB"}, "transform": [{"filter": "datum.k === 'frame'"}], "mark": {"type": "rect", "fill": "transparent", "stroke": "#2b2b2b", "strokeWidth": 1.5}, "encoding": {"x2": {"field": "z2"}, "y2": {"field": "xy2"}}},
   {"data": {"name": "refB"}, "transform": [{"filter": "datum.k === 'dash'"}], "mark": {"type": "rule", "color": "#e87a96", "strokeWidth": 1.2, "strokeDash": [12, 7]}, "encoding": {"x2": {"field": "z2"}, "y2": {"field": "xy2"}}},
   {"data": {"name": "refB"}, "transform": [{"filter": "datum.k === 'dot'"}], "mark": {"type": "rule", "color": "#333", "strokeWidth": 1, "strokeDash": [2, 2]}, "encoding": {"x2": {"field": "z2"}, "y2": {"field": "xy2"}}},
   {
    "data": {"name": "scB"},
    "encoding": {
     "color": {"field": "g", "type": "nominal", "scale": {"domain": ["13 - 13.6 s", "13.6 - 13.9 s", "13.9 - 16 s", "16 - 23 s"], "range": ["#d8d8d8", "#1b2b4b", "#f03a3a", "#3cb0dc"]},
       "legend": {"title": "b)", "legendX": -98, "legendY": 365, "titlePadding": 10, "titleFontSize": 29, "labelFontSize": 18.5, "symbolSize": 14, "columnPadding": 10, "labelOffset": -2}}
    },
    "layer": [
     {"transform": [{"filter": "datum.g === '13.9 - 16 s'"}], "mark": {"type": "point", "filled": true, "opacity": 1, "shape": "circle", "size": 12}},
     {"transform": [{"filter": "datum.g === '13.6 - 13.9 s'"}], "mark": {"type": "point", "filled": true, "opacity": 1, "shape": "diamond", "size": 24}},
     {"transform": [{"filter": "datum.g === '16 - 23 s'"}], "mark": {"type": "point", "filled": true, "opacity": 1, "shape": "cross", "size": 50}},
     {"transform": [{"filter": "datum.g === '13 - 13.6 s'"}], "mark": {"type": "point", "filled": true, "opacity": 1, "shape": "circle", "size": 22}}
    ]
   }
  ]
 },

 {"width": 1, "height": 162, "data": {"values": []}, "mark": "point"},
 {"width": 1, "height": 1, "data": {"values": []}, "mark": "point"},
 {"width": 1, "height": 1, "data": {"values": []}, "mark": "point"},
 {"width": 1, "height": 1, "data": {"values": []}, "mark": "point"},

 {"width": 1, "height": 1, "data": {"values": []}, "mark": "point"},
 {
  "width": 501, "height": 302,
  "encoding": {
   "x": {"field": "t", "type": "quantitative", "scale": {"domain": [13, 23], "nice": false, "zero": false, "range": [7, 501]},
     "axis": {"title": "Time (s)", "values": [13,13.5,14,14.5,15,15.5,16,16.5,17,17.5,18,18.5,19,19.5,20,20.5,21,21.5,22,22.5,23], "labelExpr": "datum.value % 1 === 0 ? '' + datum.value : ''", "labelOverlap": false, "offset": -117.33, "labelPadding": 105, "labelFontSize": 20, "titleFontSize": 20, "titlePadding": 19}},
   "y": {"field": "v", "type": "quantitative", "scale": {"domain": [-5, 10], "nice": false, "zero": false, "range": [271, 12]},
     "axis": {"title": "LP2 (kPa)", "values": [-5,-4,-3,-2,-1,0,1,2,3,4,5,6,7,8,9,10], "labelExpr": "datum.value % 5 === 0 ? '' + datum.value : ''", "labelOverlap": false, "offset": -7, "labelPadding": 10, "labelFontSize": 20, "titleFontSize": 21, "titlePadding": 12}}
  },
  "layer": [
   {"data": {"name": "frT"}, "transform": [{"filter": "datum.k === 'frame'"}], "mark": {"type": "rect", "fill": "transparent", "stroke": "#2b2b2b", "strokeWidth": 1.5}, "encoding": {"x2": {"field": "t2"}, "y2": {"field": "v2"}}},
   {"data": {"name": "frT"}, "transform": [{"filter": "datum.k === 'grid'"}], "mark": {"type": "rule", "color": "#555", "strokeWidth": 1.5}, "encoding": {"x2": {"field": "t2"}}},
   {
    "data": {"name": "tsC"},
    "encoding": {
     "color": {"field": "s", "type": "nominal", "scale": {"domain": ["LP2Z", "LP2X", "LP2Y"], "range": ["#3b80d0", "#f0388c", "#d0d0d0"]},
       "legend": {"title": "c)", "legendX": -106, "legendY": 384, "titlePadding": 231, "titleFontSize": 29, "labelFontSize": 18.2, "symbolSize": 6, "symbolStrokeWidth": 3, "columnPadding": 4, "labelOffset": 3}}
    },
    "layer": [
     {"transform": [{"filter": "datum.s === 'LP2Z'"}], "mark": {"type": "line", "strokeWidth": 4.5}},
     {"transform": [{"filter": "datum.s === 'LP2X'"}], "mark": {"type": "line", "strokeWidth": 3.5}},
     {"transform": [{"filter": "datum.s === 'LP2Y'"}], "mark": {"type": "line", "strokeWidth": 6}}
    ]
   }
  ]
 },
 {"width": 1, "height": 1, "data": {"values": []}, "mark": "point"},
 {
  "width": 361, "height": 302,
  "encoding": {
   "x": {"field": "z", "type": "quantitative", "scale": {"domain": [-2, 4], "nice": false, "zero": false},
     "axis": {"title": "LP2-Z (kPa)", "values": [-2,-1.9,-1.8,-1.7,-1.6,-1.5,-1.4,-1.3,-1.2,-1.1,-1,-0.9,-0.8,-0.7,-0.6,-0.5,-0.4,-0.3,-0.2,-0.1,0,0.1,0.2,0.3,0.4,0.5,0.6,0.7,0.8,0.9,1,1.1,1.2,1.3,1.4,1.5,1.6,1.7,1.8,1.9,2,2.1,2.2,2.3,2.4,2.5,2.6,2.7,2.8,2.9,3,3.1,3.2,3.3,3.4,3.5,3.6,3.7,3.8,3.9,4], "labelExpr": "datum.value % 1 === 0 ? '' + datum.value : ''", "labelOverlap": false, "offset": -151, "labelPadding": 163, "labelFontSize": 16, "titleFontSize": 16, "titlePadding": 20, "tickSize": 4}},
   "y": {"field": "xy", "type": "quantitative", "scale": {"domain": [-2, 2], "nice": false, "zero": false},
     "axis": {"title": "LP2-XY (kPa)", "values": [-2,-1.9,-1.8,-1.7,-1.6,-1.5,-1.4,-1.3,-1.2,-1.1,-1,-0.9,-0.8,-0.7,-0.6,-0.5,-0.4,-0.3,-0.2,-0.1,0,0.1,0.2,0.3,0.4,0.5,0.6,0.7,0.8,0.9,1,1.1,1.2,1.3,1.4,1.5,1.6,1.7,1.8,1.9,2], "labelExpr": "datum.value % 1 === 0 ? '' + datum.value : ''", "labelOverlap": false, "offset": -120.33, "labelPadding": 131.3, "labelFontSize": 16, "titleFontSize": 16, "titlePadding": 15, "tickSize": 4}}
  },
  "layer": [
   {"data": {"name": "refD"}, "transform": [{"filter": "datum.k === 'frame'"}], "mark": {"type": "rect", "fill": "transparent", "stroke": "#2b2b2b", "strokeWidth": 1.5}, "encoding": {"x2": {"field": "z2"}, "y2": {"field": "xy2"}}},
   {"data": {"name": "refD"}, "transform": [{"filter": "datum.k === 'dot'"}], "mark": {"type": "rule", "color": "#333", "strokeWidth": 1, "strokeDash": [2, 2]}, "encoding": {"x2": {"field": "z2"}, "y2": {"field": "xy2"}}},
   {
    "data": {"name": "scD"},
    "encoding": {
     "color": {"field": "g", "type": "nominal", "scale": {"domain": ["13 - 14.9 s", "14.9 - 16 s", "16 - 20 s", "20 - 23 s"], "range": ["#16264a", "#ee3344", "#f5dcb0", "#3cb4e0"]},
       "legend": {"title": "d)", "legendX": -91, "legendY": 382, "titlePadding": 3, "titleFontSize": 29, "labelFontSize": 18.5, "symbolSize": 14, "columnPadding": 16, "labelOffset": 0}}
    },
    "layer": [
     {"transform": [{"filter": "datum.g === '16 - 20 s'"}], "mark": {"type": "point", "filled": true, "opacity": 1, "shape": "circle", "size": 34}},
     {"transform": [{"filter": "datum.g === '20 - 23 s'"}], "mark": {"type": "point", "filled": true, "opacity": 1, "shape": "cross", "size": 60}},
     {"transform": [{"filter": "datum.g === '13 - 14.9 s'"}], "mark": {"type": "point", "filled": true, "opacity": 1, "shape": "diamond", "size": 40}},
     {"transform": [{"filter": "datum.g === '14.9 - 16 s'"}], "mark": {"type": "point", "filled": true, "opacity": 1, "shape": "circle", "size": 10}}
    ]
   }
  ]
 }
]
}
